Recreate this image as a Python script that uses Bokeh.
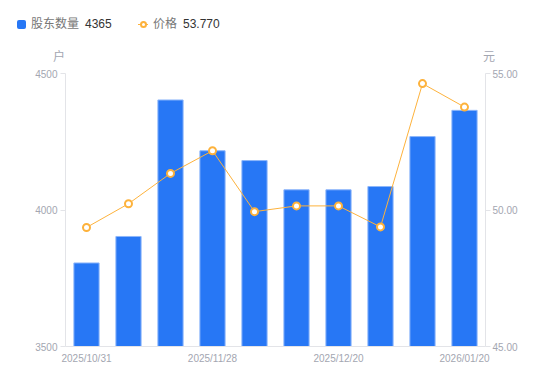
from bokeh.plotting import figure
from bokeh.layouts import column
from bokeh.models import Range1d, LinearAxis, FixedTicker, NumeralTickFormatter, ColumnDataSource, Div
from bokeh.embed import file_html
from bokeh.resources import INLINE

dates = ["2025/10/31", "2025/11/10", "2025/11/20", "2025/11/28", "2025/12/05",
         "2025/12/10", "2025/12/20", "2025/12/31", "2026/01/10", "2026/01/20"]
holders = [3806, 3903, 4403, 4217, 4181, 4074, 4074, 4086, 4269, 4365]
price = [49.36, 50.23, 51.34, 52.17, 49.94, 50.15, 50.15, 49.38, 54.63, 53.77]
left_ticks = [3500, 4000, 4500]
right_ticks = [45, 50, 55]
shown_dates = [0, 3, 6, 9]
legend_names = ["股东数量", "价格"]
units = ["户", "元"]

BLUE = "#2777F5"
ORANGE = "#FDB23C"
TICK = "#A3A6B1"
AXIS = "#E3E4E8"
TFONT = "Liberation Sans, Noto Sans CJK SC"
W = 545

# ---------- legend / header strip ----------
def abs_span(left, top, style="", text=""):
    return (f'<span style="position:absolute;left:{left}px;top:{top}px;'
            f'white-space:nowrap;{style}">{text}</span>')

txt = "line-height:15px;font-size:12px;"
html = (
    f'<div style="position:relative;width:{W}px;height:64px;'
    f"font-family:'Liberation Sans','Noto Sans CJK SC',sans-serif;\">"
    + abs_span(17, 20, f"width:9px;height:9px;background:{BLUE};border-radius:2px;")
    + abs_span(31, 17, txt + "color:#777777;", legend_names[0])
    + abs_span(85, 17, txt + "color:#333333;", str(holders[-1]))
    + abs_span(138, 23.5, f"width:10px;height:1.5px;background:{ORANGE};")
    + abs_span(139.5, 21, f"width:7px;height:7px;box-sizing:border-box;border:2px solid {ORANGE};"
               "border-radius:50%;background:#ffffff;")
    + abs_span(153, 17, txt + "color:#777777;", legend_names[1])
    + abs_span(183, 17, txt + "color:#333333;", f"{price[-1]:.3f}")
    + abs_span(53, 50, txt + f"color:{TICK};", units[0])
    + abs_span(483, 50, txt + f"color:{TICK};", units[1])
    + "</div>"
)
hdr = Div(text=html, width=W, height=64, margin=0)

# ---------- main chart ----------
xs = list(range(len(dates)))
src = ColumnDataSource(dict(x=xs, h=holders, p=price))

p = figure(width=W, height=312, output_backend="svg", toolbar_location=None,
           x_range=Range1d(-0.5, len(dates) - 0.5), y_range=Range1d(3500, 4500),
           min_border_left=65, min_border_right=60, min_border_top=9, min_border_bottom=30,
           margin=0)
p.extra_y_ranges = {"price": Range1d(45, 55)}
p.outline_line_color = None
p.xgrid.visible = False
p.ygrid.visible = False

p.vbar(x="x", top="h", bottom=3500, width=0.6, source=src,
       fill_color=BLUE, line_color="#8DB6FA", line_width=1)
p.line(x="x", y="p", source=src, y_range_name="price", line_color=ORANGE, line_width=1)
p.scatter(x="x", y="p", source=src, y_range_name="price", size=7,
          fill_color="white", line_color=ORANGE, line_width=2)


def style(ax):
    ax.axis_line_color = AXIS
    ax.major_tick_line_color = AXIS
    ax.major_tick_out = 5
    ax.major_tick_in = 0
    ax.minor_tick_line_color = None
    ax.major_label_text_color = TICK
    ax.major_label_text_font = TFONT
    ax.major_label_text_font_size = "10px"
    ax.major_label_standoff = 3


ya = p.yaxis[0]
ya.ticker = FixedTicker(ticks=left_ticks)
style(ya)

ra = LinearAxis(y_range_name="price", ticker=FixedTicker(ticks=right_ticks),
                formatter=NumeralTickFormatter(format="0.00"))
style(ra)
ra.major_label_standoff = 2
p.add_layout(ra, "right")

xa = p.xaxis[0]
xa.ticker = FixedTicker(ticks=shown_dates)
xa.major_label_overrides = {i: dates[i] for i in shown_dates}
style(xa)
xa.major_tick_line_color = None
xa.major_tick_out = 0
xa.major_label_standoff = 6

layout = column(hdr, p, spacing=0)
open("out.html", "w").write(file_html(layout, INLINE))
